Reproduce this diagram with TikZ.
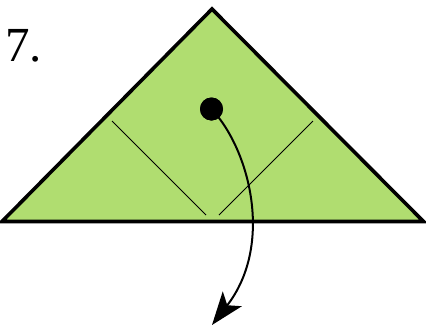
\documentclass[tikz,border=0pt]{standalone}
\usepackage{fontspec}
\setmainfont{Liberation Serif}
\usetikzlibrary{arrows.meta}
\definecolor{paper}{RGB}{176,221,112}
\tikzset{
  fold/.style={line width=3.6pt, line join=miter, fill=paper},
  crease/.style={line width=0.9pt},
  motion/.style={line width=2pt, -{Stealth[length=33pt, width=24pt, inset=8pt]}},
  steplabel/.style={font=\fontsize{49}{52}\selectfont, anchor=base west, inner sep=0pt}
}
\begin{document}
\begin{tikzpicture}[x=1pt,y=-1pt]
\useasboundingbox (0,0) rectangle (426,327);
\coordinate (apex) at (212,9);
\coordinate (bl) at (2,221.5);
\coordinate (br) at (423.5,221.5);
\draw[fold] (bl) -- (apex) -- (br) -- cycle;
\coordinate (c1a) at (112,121);
\coordinate (c1b) at (206,215);
\coordinate (c2a) at (313,121);
\coordinate (c2b) at (219,215);
\draw[crease] (c1a) -- (c1b);
\draw[crease] (c2a) -- (c2b);
\node[steplabel] (num) at (5,61) {7.};
\node[circle, fill=black, minimum size=23pt, inner sep=0pt] (dot) at (211.5,109) {};
\coordinate (tip) at (212,325);
\draw[motion] (dot.center) .. controls (250,150) and (274,245) .. (tip);
\fill (dot.center) circle (11.5pt);
\end{tikzpicture}
\end{document}
